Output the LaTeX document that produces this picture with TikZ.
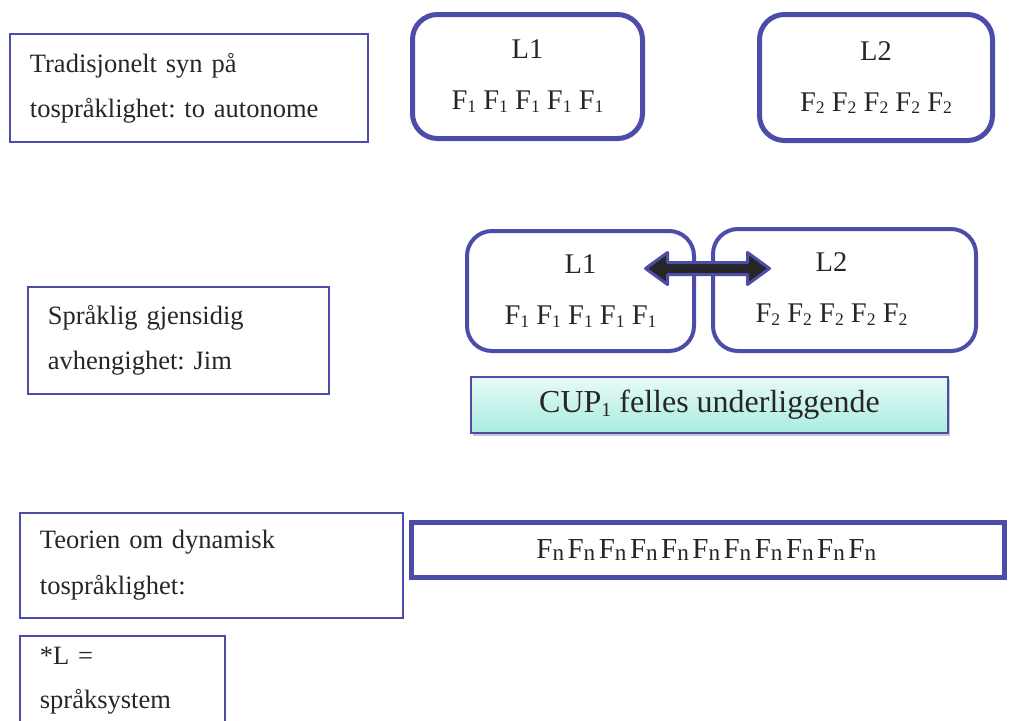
\documentclass[tikz,border=0pt]{standalone}
\usepackage{fontspec}
\setmainfont{Liberation Serif}
\usepackage{xcolor}
\usepackage{graphicx}
\usepackage{tikz}
\usetikzlibrary{positioning,calc,shadows}
\definecolor{boxline}{RGB}{76,76,170}
\definecolor{inkgray}{RGB}{38,38,38}
\definecolor{cuptop}{RGB}{232,250,248}
\definecolor{cupbottom}{RGB}{168,236,222}
\newcommand{\lsub}[2][0.62]{\raisebox{-0.1em}{\scalebox{#1}{#2}}}
\newcommand{\fnpair}{\makebox[31.2pt][l]{F\lsub[0.8]{n}}}
\frenchspacing

\begin{document}
\begin{tikzpicture}[x=1pt, y=-1pt, every node/.style={text=inkgray, font=\fontsize{26.5}{46}\selectfont}]
  \tikzstyle{notebox}=[draw=boxline, line width=1.8pt, anchor=north west, align=left, inner xsep=20pt]
  \tikzstyle{langbox}=[draw=boxline, line width=5pt, rounded corners=25pt, align=center, font=\fontsize{28.5}{51}\selectfont]
  \tikzstyle{langtext}=[align=center, font=\fontsize{28.5}{51}\selectfont]
  \useasboundingbox (0,0) rectangle (1009,720);
  % top row: two separate systems
  \node[notebox, text width=318, minimum height=108] (trad) at (9,33) {Tradisjonelt syn på\\[-1pt]tospråklighet: to autonome};
  \node[langbox, minimum width=230, minimum height=124] (sysa) at (527.5,76.5) {L1\\F\lsub{1} F\lsub{1} F\lsub{1} F\lsub{1} F\lsub{1}};
  \node[langbox, minimum width=233, minimum height=126] (sysb) at (876,77.5) {L2\\F\lsub{2} F\lsub{2} F\lsub{2} F\lsub{2} F\lsub{2}};
  % middle row: interdependence
  \node[notebox, text width=261, minimum height=107, font=\fontsize{26.5}{45}\selectfont] (jim) at (27,286) {Språklig gjensidig\\avhengighet: Jim};
  \node[langbox, line width=4pt, minimum width=227, minimum height=120] (sysc) at (580.5,291) {L1\\F\lsub{1} F\lsub{1} F\lsub{1} F\lsub{1} F\lsub{1}};
  \node[langbox, line width=4pt, minimum width=263, minimum height=122] (sysd) at (844.5,290) {};
  \node[langtext] (sysdtxt) at ([xshift=-13pt,yshift=1pt]sysd.center) {L2\\F\lsub{2} F\lsub{2} F\lsub{2} F\lsub{2} F\lsub{2}};
  % double arrow between L1 and L2
  \coordinate (swap) at ($(sysc.east)!0.5!(sysd.west)+(4,-22)$);
  \begin{scope}[shift={(swap)}]
    \draw[boxline, fill=inkgray, line width=3pt, line join=round] (-62,0) -- (-40,-16) -- (-40,-6) -- (40,-6) -- (40,-16) -- (62,0) -- (40,16) -- (40,6) -- (-40,6) -- (-40,16) -- cycle;
  \end{scope}
  \node[draw=boxline, line width=1.5pt, top color=cuptop, bottom color=cupbottom, drop shadow={shadow xshift=1.5pt, shadow yshift=-2.5pt, opacity=0.45}, minimum width=477, minimum height=56, font=\fontsize{32}{40}\selectfont] (cup) at (709.5,405) {CUP\lsub{1} felles underliggende};
  % bottom row: dynamic bilingualism
  \node[notebox, text width=343, minimum height=105] (dyn) at (19,512) {Teorien om dynamisk\\tospråklighet:};
  \node[draw=boxline, line width=5pt, minimum width=593, minimum height=55, font=\fontsize{29}{30}\selectfont] (flow) at (708,550) {\fnpair\fnpair\fnpair\fnpair\fnpair\fnpair\fnpair\fnpair\fnpair\fnpair\fnpair};
  \node[notebox, text width=165, minimum height=90, font=\fontsize{26.5}{44}\selectfont, below right=16pt and 0pt of dyn.south west] (note) {*L =\\språksystem};
\end{tikzpicture}
\end{document}
